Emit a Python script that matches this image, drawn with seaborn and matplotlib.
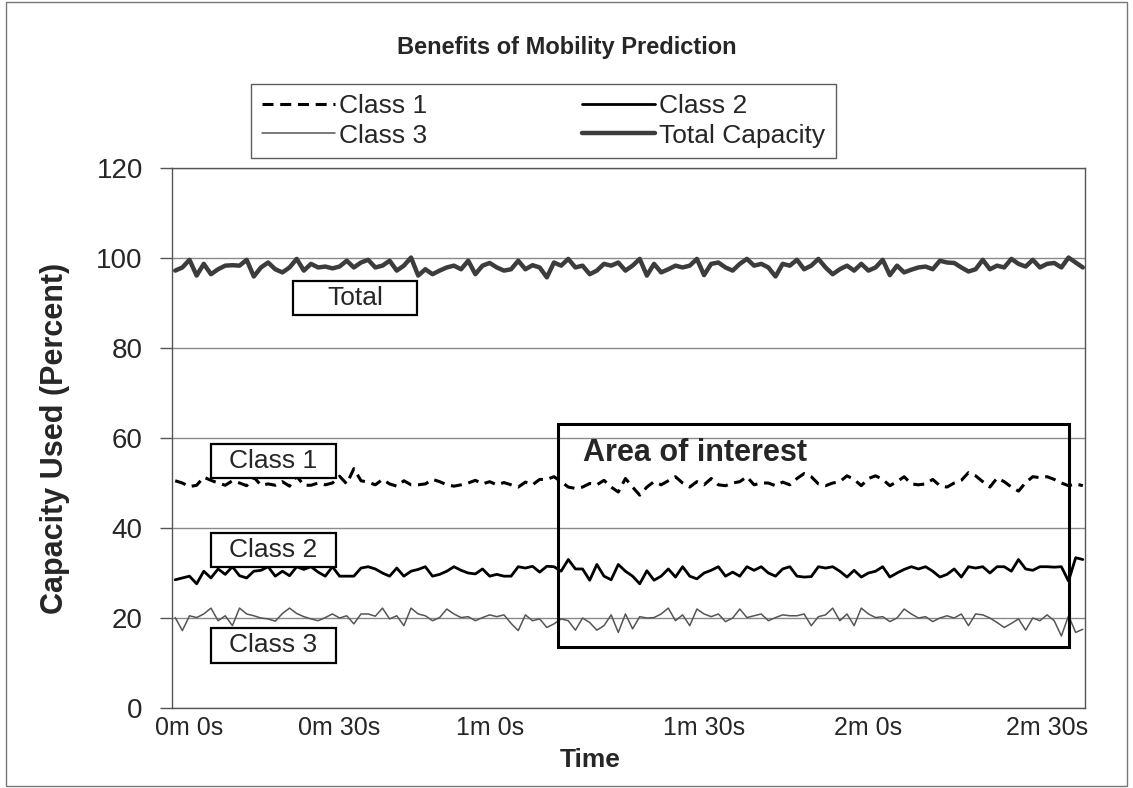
import numpy as np
import pandas as pd
import matplotlib
matplotlib.use("Agg")
import matplotlib.pyplot as plt
from matplotlib.patches import Rectangle
import seaborn as sns

# Capacity used per sample (percent)
class_1 = [
    50.5, 50.0, 49.2, 49.5, 51.3, 50.6, 50.0, 49.5, 50.5, 50.0, 49.4, 51.3, 49.5, 49.8, 49.5, 50.3,
    49.3, 51.5, 49.5, 49.5, 50.0, 49.6, 50.0, 51.5, 49.8, 53.2, 50.5, 50.2, 49.6, 50.8, 49.8, 49.3,
    50.5, 49.6, 49.6, 49.8, 50.8, 50.3, 49.6, 49.3, 49.6, 50.0, 50.6, 49.8,
    50.3, 49.6, 50.1, 49.6, 49.1, 50.2, 49.6, 50.8, 50.8, 51.4, 50.3, 49.1, 48.8, 49.1, 49.9, 49.6,
    50.6, 49.1, 48.0, 51.0, 49.1, 47.3, 49.1, 50.3, 49.6, 50.5, 51.4, 50.0, 49.1, 50.3, 49.6, 51.0,
    49.6, 49.4, 50.0, 50.3, 51.4, 49.6, 50.0, 50.0, 49.4, 50.2,
    49.6, 51.0, 52.1, 51.4, 49.8, 49.4, 50.0, 50.3, 51.6, 50.8, 49.4, 51.0, 51.6, 50.8, 49.4, 50.3,
    51.4, 49.8, 49.6, 49.8, 50.8, 49.4, 49.1, 50.0, 50.6, 52.3, 51.6, 50.3, 49.1, 51.1, 50.3, 49.1,
    48.2, 50.1, 51.4, 51.2, 51.4, 50.8, 50.0, 49.4, 49.8, 49.4,
]
class_2 = [
    28.5, 28.9, 29.3, 27.6, 30.4, 28.9, 30.9, 29.7, 31.4, 29.4, 28.9, 30.4, 30.6, 31.4, 29.3, 30.4,
    29.4, 31.4, 30.8, 31.4, 30.2, 29.3, 31.4, 29.3, 29.3, 29.3, 31.1, 31.4, 30.9, 30.0, 29.3, 31.1,
    29.3, 30.4, 30.8, 31.4, 29.3, 29.7, 30.4, 31.4, 30.6, 30.0, 29.8, 30.9,
    29.3, 29.7, 29.3, 29.3, 31.4, 31.1, 31.5, 30.2, 31.5, 31.4, 30.4, 33.0, 30.9, 30.9, 28.4, 31.9,
    29.3, 28.5, 31.9, 30.4, 29.3, 27.6, 30.5, 28.4, 29.3, 30.9, 29.1, 31.4, 29.3, 28.7, 30.0, 30.6,
    31.4, 29.3, 30.2, 29.3, 31.4, 30.6, 31.4, 30.0, 29.3, 30.9,
    31.4, 29.3, 29.1, 29.2, 31.4, 31.1, 31.4, 30.4, 29.1, 30.6, 29.1, 30.0, 30.4, 31.4, 29.1, 30.0,
    30.8, 31.4, 30.9, 31.4, 30.4, 29.1, 29.7, 30.9, 29.1, 31.4, 31.1, 31.4, 30.0, 31.4, 31.4, 30.4,
    33.0, 30.9, 30.6, 31.4, 31.4, 31.3, 31.4, 28.2, 33.4, 33.0,
]
class_3 = [
    20.1, 17.2, 20.5, 20.1, 20.9, 22.2, 19.4, 20.5, 18.3, 22.2, 20.9, 20.5, 20.0, 19.8, 19.3, 21.0,
    22.2, 21.0, 20.3, 19.8, 19.4, 20.1, 20.9, 20.0, 20.5, 18.7, 20.9, 20.9, 20.4, 22.2, 19.8, 20.5,
    18.3, 22.2, 20.9, 20.5, 19.4, 20.1, 22.0, 20.9, 20.1, 20.3, 19.4, 20.1,
    20.7, 20.3, 20.7, 18.8, 17.2, 20.7, 19.4, 19.8, 17.9, 18.7, 19.8, 19.4, 17.3, 20.0, 19.0, 17.3,
    18.3, 20.7, 16.8, 20.9, 17.6, 20.3, 20.0, 20.1, 20.9, 22.2, 19.4, 20.7, 18.3, 22.0, 20.9, 20.3,
    20.9, 19.2, 20.0, 22.0, 20.1, 20.5, 20.9, 19.4, 20.1, 20.7, 20.5,
    20.5, 20.9, 18.3, 20.3, 20.7, 22.2, 19.4, 20.9, 18.3, 22.2, 20.9, 20.1, 20.3, 19.2, 20.0, 22.0,
    20.9, 20.0, 20.3, 19.2, 20.0, 20.5, 20.0, 20.9, 18.3, 20.9, 20.7, 20.0, 19.0, 17.9, 18.8, 19.8,
    17.3, 20.0, 19.4, 20.7, 19.4, 16.0, 20.5, 16.8, 17.5,
]
total_capacity = [
    97.2, 97.9, 99.6, 96.1, 98.7, 96.4, 97.5, 98.3, 98.4, 98.3, 99.6, 95.9, 97.9, 99.0, 97.5, 96.8,
    97.9, 99.8, 97.2, 98.7, 97.9, 98.1, 97.7, 98.1, 99.4, 97.9, 99.0, 99.6, 97.9, 98.3, 99.4, 97.2,
    98.3, 100.1, 96.1, 97.5, 96.4, 97.2, 97.9, 98.3, 97.5, 99.4, 96.4, 98.3, 98.9, 97.9, 97.2, 97.5,
    99.4, 97.5, 98.4, 97.9, 95.7, 99.0, 98.3, 99.8, 97.9, 98.3, 96.4, 97.2, 98.7, 98.3, 99.0, 97.2,
    98.3, 99.8, 96.1, 98.7, 96.8, 97.5, 98.3, 97.9, 98.3, 99.8, 96.2, 98.7, 99.0, 97.9, 97.2, 98.7,
    99.8, 98.3, 98.7, 97.9, 95.9, 98.7, 98.3, 99.6, 97.5, 98.3, 99.8, 97.9, 96.4, 97.5, 98.3, 97.2,
    98.7, 97.2, 97.9, 99.6, 96.2, 98.3, 96.8, 97.4, 97.9, 98.1, 97.5, 99.4, 99.0, 98.9, 97.9, 97.0,
    97.5, 99.6, 97.5, 98.3, 97.9, 99.8, 98.7, 98.1, 99.6, 97.9, 98.7, 98.9, 97.9, 100.1, 99.0, 97.9,
]

time_tick_samples = [2, 23, 44, 74, 97, 122]
time_tick_labels = ["0m 0s", "0m 30s", "1m 0s", "1m 30s", "2m 0s", "2m 30s"]
y_ticks = [0, 20, 40, 60, 80, 100, 120]

sns.set_theme(style="white")
plt.rcParams["font.family"] = ["Liberation Sans", "DejaVu Sans"]

fig = plt.figure(figsize=(11.33, 7.88), dpi=100)
ax = fig.add_axes([0.1518, 0.1015, 0.8058, 0.6853])

df = pd.DataFrame({
    "sample": np.arange(len(total_capacity)),
    "Class 1": class_1,
    "Class 2": class_2,
    "Class 3": class_3,
    "Total Capacity": total_capacity,
})

sns.lineplot(data=df, x="sample", y="Total Capacity", ax=ax, color="#3c3c3c",
             lw=3.2, label="Total Capacity", zorder=3)
sns.lineplot(data=df, x="sample", y="Class 1", ax=ax, color="black",
             lw=2.2, label="Class 1", zorder=3)
ax.lines[-1].set_dashes([3.6, 2.2])
sns.lineplot(data=df, x="sample", y="Class 2", ax=ax, color="black",
             lw=2.0, label="Class 2", zorder=3)
sns.lineplot(data=df, x="sample", y="Class 3", ax=ax, color="#555555",
             lw=1.1, label="Class 3", zorder=3)
if ax.get_legend() is not None:
    ax.get_legend().remove()

ax.set_xlim(-0.45, len(total_capacity) - 0.7)
ax.set_ylim(0, 120)
ax.set_yticks(y_ticks)
ax.set_yticklabels([str(v) for v in y_ticks], fontsize=20)
ax.set_xticks(time_tick_samples)
ax.set_xticklabels(time_tick_labels, fontsize=18)
ax.tick_params(axis="y", length=9, width=1, color="#555555", pad=12, left=True)
ax.tick_params(axis="x", length=0, pad=6)
ax.set_xlabel("")
ax.set_ylabel("")

ax.yaxis.grid(True, color="#8a8a8a", lw=1.0)
ax.xaxis.grid(False)
ax.set_axisbelow(True)
for side in ["left", "right", "top", "bottom"]:
    ax.spines[side].set_color("#555555")
    ax.spines[side].set_linewidth(1.0)

# Labelled boxes beside each series
label_boxes = [
    ("Total", 16.5, 87.3, 17.4, 7.6),
    ("Class 1", 5.0, 51.1, 17.5, 7.6),
    ("Class 2", 5.0, 31.3, 17.5, 7.6),
    ("Class 3", 5.0, 10.0, 17.5, 7.8),
]
for text, x0, y0, w, h in label_boxes:
    ax.add_patch(Rectangle((x0, y0), w, h, facecolor="white", edgecolor="black",
                           lw=1.6, zorder=5))
    ax.text(x0 + w / 2, y0 + h / 2, text, ha="center", va="center",
            fontsize=19, zorder=6)

# Highlighted region
ax.add_patch(Rectangle((53.5, 13.6), 71.6, 49.5, facecolor="none",
                       edgecolor="black", lw=2.2, zorder=4))
ax.text(57.1, 56.7, "Area of interest", ha="left", va="center",
        fontsize=22, fontweight="bold", zorder=6)

fig.text(0.5004, 0.940, "Benefits of Mobility Prediction", ha="center",
         va="center", fontsize=17, fontweight="bold")
fig.text(0.521, 0.0355, "Time", ha="center", va="center", fontsize=19,
         fontweight="bold")
fig.text(0.0485, 0.444, "Capacity Used (Percent)", ha="center", va="center",
         rotation=90, fontsize=22, fontweight="bold")

lines = {ln.get_label(): ln for ln in ax.lines}
order = ["Class 1", "Class 3", "Class 2", "Total Capacity"]
leg = fig.legend([lines[k] for k in order], order, ncol=2, loc="center",
                 bbox_to_anchor=(0.4797, 0.8464), fontsize=19, frameon=True,
                 fancybox=False, edgecolor="#333333", handlelength=2.75,
                 handletextpad=0.15, columnspacing=5.9, labelspacing=0.2,
                 borderpad=0.4)
leg.get_frame().set_linewidth(1.0)

# Outer frame of the figure
fig.add_artist(Rectangle((0.005, 0.003), 0.99, 0.994, transform=fig.transFigure,
                         facecolor="none", edgecolor="#777777", lw=1.0))

fig.savefig("out.png", dpi=100)
